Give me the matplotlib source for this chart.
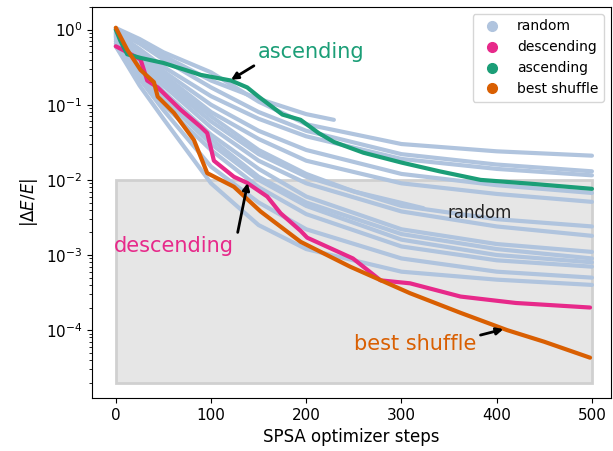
import matplotlib
matplotlib.use("Agg")
import matplotlib.pyplot as plt
from matplotlib.patches import Rectangle
from matplotlib.lines import Line2D

# ---------------- data ----------------
R_STEPS = [0, 25, 50, 100, 150, 200, 300, 400, 500]
random_runs = [
    [1.05, 0.75, 0.50, 0.27, 0.110, 0.055, 0.030, 0.024, 0.021],
    [0.95, 0.65, 0.40, 0.17, 0.080, 0.045, 0.022, 0.016, 0.013],
    [0.90, 0.55, 0.32, 0.13, 0.065, 0.038, 0.019, 0.014, 0.0115],
    [1.00, 0.50, 0.28, 0.10, 0.045, 0.025, 0.012, 0.0085, 0.0067],
    [0.85, 0.45, 0.25, 0.08, 0.035, 0.018, 0.009, 0.0065, 0.0051],
    [0.80, 0.40, 0.20, 0.06, 0.022, 0.011, 0.0045, 0.0030, 0.0024],
    [0.90, 0.40, 0.18, 0.05, 0.018, 0.009, 0.0038, 0.0024, 0.0018],
    [0.75, 0.35, 0.15, 0.04, 0.014, 0.006, 0.0022, 0.0014, 0.0011],
    [0.70, 0.30, 0.13, 0.035, 0.011, 0.005, 0.0019, 0.0012, 0.0009],
    [0.80, 0.30, 0.12, 0.030, 0.010, 0.0045, 0.0016, 0.0010, 0.0008],
    [0.65, 0.26, 0.10, 0.025, 0.008, 0.0035, 0.0013, 0.00085, 0.0007],
    [0.60, 0.22, 0.085, 0.015, 0.005, 0.0022, 0.0009, 0.0006, 0.0005],
    [0.60, 0.18, 0.065, 0.009, 0.0025, 0.0012, 0.0006, 0.00047, 0.0004],
]
short1_steps = [0, 25, 50, 100, 150, 200, 229]
short1_vals = [1.0, 0.70, 0.45, 0.21, 0.12, 0.075, 0.063]
short2_steps = [0, 25, 50, 100, 150, 200, 250, 323]
short2_vals = [0.85, 0.45, 0.22, 0.07, 0.025, 0.012, 0.007, 0.0042]

asc_steps = [0, 5, 12, 26, 50, 89, 121, 138, 150, 175, 194, 213, 229, 260, 300, 340, 383, 440, 500]
asc_vals = [1.0, 0.7, 0.47, 0.42, 0.36, 0.25, 0.21, 0.17, 0.128, 0.074, 0.063, 0.042, 0.032, 0.023, 0.017, 0.013, 0.010, 0.0088, 0.0076]

desc_steps = [0, 12, 26, 33, 44, 54, 68, 89, 96, 103, 124, 138, 159, 173, 194, 201, 249, 278, 309, 362, 420, 498]
desc_vals = [0.6, 0.5, 0.4, 0.21, 0.17, 0.128, 0.086, 0.051, 0.042, 0.018, 0.011, 0.0091, 0.006, 0.0036, 0.0021, 0.0017, 0.0009, 0.00046, 0.00042, 0.00028, 0.00023, 0.0002]

best_steps = [0, 5, 12, 26, 40, 44, 61, 82, 96, 124, 152, 194, 246, 309, 362, 411, 450, 498]
best_vals = [1.06, 0.8, 0.54, 0.29, 0.2, 0.128, 0.078, 0.034, 0.0123, 0.0081, 0.0038, 0.0015, 0.0007, 0.00031, 0.00017, 0.0001, 0.00007, 0.000043]

# ---------------- style ----------------
C_RAND = "#b0c4de"
C_DESC = "#e7298a"
C_ASC = "#1b9e77"
C_BEST = "#d95f02"

fig = plt.figure(figsize=(6.13, 4.51), dpi=100)
ax = fig.add_axes([92 / 613, 1 - 398 / 451, (611 - 92) / 613, (398 - 7) / 451])

ax.add_patch(Rectangle((0, 2e-5), 500, 1e-2 - 2e-5, facecolor="#e6e6e6",
                       edgecolor="#d0d0d0", linewidth=2, zorder=0))

lw = 3.0
for vals in random_runs:
    ax.plot(R_STEPS, vals, color=C_RAND, lw=lw, zorder=1, solid_capstyle="round")
ax.plot(short1_steps, short1_vals, color=C_RAND, lw=lw, zorder=1, solid_capstyle="round")
ax.plot(short2_steps, short2_vals, color=C_RAND, lw=lw, zorder=1, solid_capstyle="round")
ax.plot(desc_steps, desc_vals, color=C_DESC, lw=lw, zorder=3, solid_capstyle="round")
ax.plot(asc_steps, asc_vals, color=C_ASC, lw=lw, zorder=3, solid_capstyle="round")
ax.plot(best_steps, best_vals, color=C_BEST, lw=lw, zorder=4, solid_capstyle="round")

ax.set_yscale("log")
ax.set_xlim(-25, 520)
ax.set_ylim(1.25e-5, 2.0)
ax.set_xticks([0, 100, 200, 300, 400, 500])
ax.tick_params(labelsize=11)
ax.set_xlabel("SPSA optimizer steps", fontsize=12)
ax.set_ylabel(r"$|\Delta E/E|$", fontsize=12)

arrow = dict(arrowstyle="-|>", color="k", lw=2, mutation_scale=10, shrinkA=0, shrinkB=0)
ax.text(149, 0.51, "ascending", color=C_ASC, fontsize=15, va="center", ha="left")
ax.annotate("", xy=(121, 0.215), xytext=(145, 0.33), arrowprops=arrow, zorder=6)
ax.text(-2, 0.0013, "descending", color=C_DESC, fontsize=15, va="center", ha="left")
ax.annotate("", xy=(138.5, 0.0091), xytext=(128, 0.0020), arrowprops=arrow, zorder=6)
ax.text(250, 6.5e-5, "best shuffle", color=C_BEST, fontsize=15, va="center", ha="left")
ax.annotate("", xy=(407, 1.03e-4), xytext=(383, 8.6e-5), arrowprops=arrow, zorder=6)
ax.text(348, 0.0036, "random", color="#222222", fontsize=12, va="center", ha="left")

handles = [Line2D([], [], marker="o", ls="none", color=c, markersize=7)
           for c in (C_RAND, C_DESC, C_ASC, C_BEST)]
ax.legend(handles, ["random", "descending", "ascending", "best shuffle"],
          loc="upper right", fontsize=10)

fig.savefig("out.png", dpi=100)
